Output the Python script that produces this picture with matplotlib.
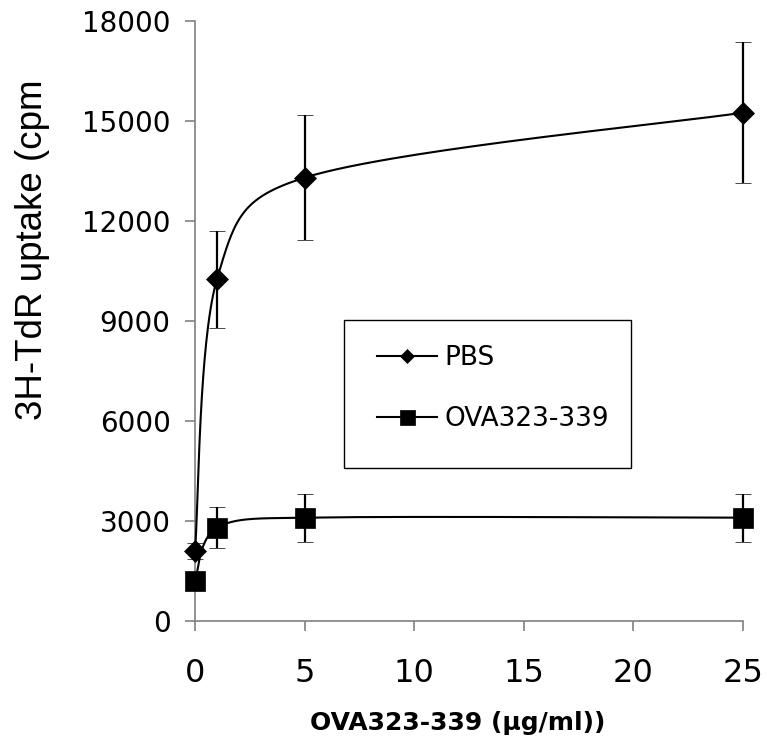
import numpy as np
import matplotlib
matplotlib.use("Agg")
import matplotlib.pyplot as plt
from matplotlib.lines import Line2D
from matplotlib.patches import Rectangle

# OVA323-339 concentration (ug/ml)
conc = [0, 1, 5, 25]

# 3H-TdR uptake (cpm), mean and error
pbs_mean = [2100, 10250, 13300, 15250]
pbs_err = [250, 1450, 1870, 2120]
ova_mean = [1200, 2800, 3100, 3100]
ova_err = [200, 620, 720, 720]

series_labels = ["PBS", "OVA323-339"]
x_ticks = [0, 5, 10, 15, 20, 25]
y_ticks = [0, 3000, 6000, 9000, 12000, 15000, 18000]

W, H = 767, 751
AX_L, AX_R, AX_T, AX_B = 195, 743, 21, 621
fig = plt.figure(figsize=(W / 100, H / 100), dpi=100)
ax = fig.add_axes([AX_L / W, 1 - AX_B / H, (AX_R - AX_L) / W, (AX_B - AX_T) / H])
ax.set_xlim(0, 25)
ax.set_ylim(0, 18000)


def px_to_axes(px, py):
    return (px - AX_L) / (AX_R - AX_L), (AX_B - py) / (AX_B - AX_T)


def smooth_curve(ax, xs, ys, n=60):
    """Bezier smoothing done in screen space, with control arms limited
    to half of each segment's length."""
    pts = ax.transData.transform(np.column_stack([xs, ys]))
    out = []
    m = len(pts)
    for i in range(m - 1):
        p0 = pts[i - 1] if i > 0 else pts[i]
        p1 = pts[i]
        p2 = pts[i + 1]
        p3 = pts[i + 2] if i + 2 < m else pts[i + 1]
        d12 = np.hypot(*(p2 - p1))
        a = (p2 - p0) / 6.0
        b = (p3 - p1) / 6.0
        la, lb = np.hypot(*a), np.hypot(*b)
        if la > d12 / 2:
            a *= (d12 / 2) / la
        if lb > d12 / 2:
            b *= (d12 / 2) / lb
        c1 = p1 + a
        c2 = p2 - b
        t = np.linspace(0, 1, n)[:, None]
        seg = ((1 - t) ** 3) * p1 + 3 * ((1 - t) ** 2) * t * c1 \
            + 3 * (1 - t) * t ** 2 * c2 + t ** 3 * p2
        out.append(seg if i == 0 else seg[1:])
    disp = np.vstack(out)
    data = ax.transData.inverted().transform(disp)
    return data[:, 0], data[:, 1]


# smoothed connecting lines
for mean in (ova_mean, pbs_mean):
    sx, sy = smooth_curve(ax, conc, mean)
    ax.plot(sx, sy, color="black", lw=1.5, zorder=3, clip_on=False)

# error bars and markers
ax.errorbar(conc, ova_mean, yerr=ova_err, fmt="s", color="black",
            ms=14.5, mew=0.5, ecolor="black", elinewidth=1.6,
            capsize=6, capthick=1.6, zorder=4, clip_on=False)
ax.errorbar(conc, pbs_mean, yerr=pbs_err, fmt="D", color="black",
            ms=11.7, mew=0.5, ecolor="black", elinewidth=1.6,
            capsize=6, capthick=1.6, zorder=5, clip_on=False)

# axes styling
for side in ("top", "right"):
    ax.spines[side].set_visible(False)
for side in ("left", "bottom"):
    ax.spines[side].set_color("#808080")
    ax.spines[side].set_linewidth(1.2)

ax.set_xticks(x_ticks)
ax.set_yticks(y_ticks)
ax.tick_params(axis="both", direction="out", length=7.5, width=1.2,
               color="#808080", labelcolor="black")
ax.tick_params(axis="y", pad=10, labelsize=20)
ax.tick_params(axis="x", pad=19.5, labelsize=23)
for lbl in ax.get_xticklabels() + ax.get_yticklabels():
    lbl.set_fontfamily("DejaVu Sans")

ax.set_xlabel("OVA323-339 (\u03bcg/ml))", fontsize=18, fontweight="bold",
              fontfamily="DejaVu Sans")
ax.xaxis.set_label_coords(*px_to_axes(458, 723))
ax.xaxis.label.set_va("center")

fig.text(33 / W, 1 - 250 / H, "3H-TdR uptake (cpm", rotation=90,
         ha="center", va="center", fontsize=26.5, fontfamily="Liberation Sans")

# legend box and entries
bx0, by0 = px_to_axes(344, 468)
bx1, by1 = px_to_axes(631, 320)
ax.add_patch(Rectangle((bx0, by0), bx1 - bx0, by1 - by0, transform=ax.transAxes,
                       facecolor="white", edgecolor="black", lw=1.0, zorder=6))
handles = [
    Line2D([], [], color="black", lw=1.5, marker="D", ms=7.6, mew=0.5),
    Line2D([], [], color="black", lw=1.5, marker="s", ms=10.8, mew=0.5),
]
leg = ax.legend(handles, series_labels, loc="upper left",
                bbox_to_anchor=px_to_axes(377, 345), borderaxespad=0,
                borderpad=0, frameon=False,
                prop={"family": "DejaVu Sans", "size": 19},
                handlelength=2.27, handletextpad=0.3, labelspacing=1.33)
leg.set_zorder(7)

fig.savefig("out.png", dpi=100)
